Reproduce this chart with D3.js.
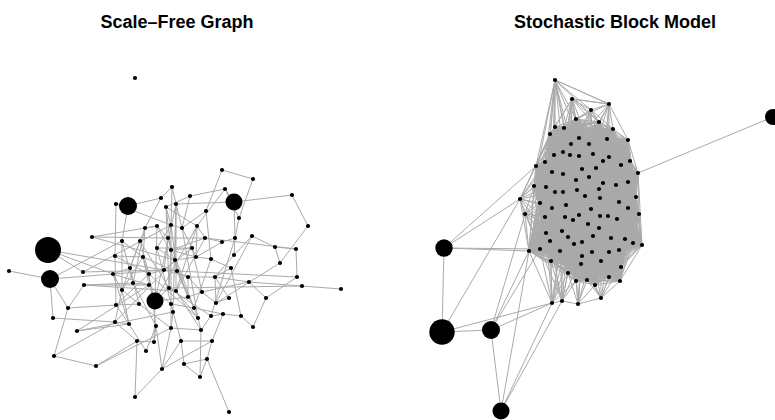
<!DOCTYPE html>
<html>
<head>
<meta charset="utf-8">
<script src="https://cdn.jsdelivr.net/npm/d3@7"></script>
<style>
  body { margin: 0; background: #fff; }
  svg text { font-family: "Liberation Sans", Arial, sans-serif; font-weight: bold; }
</style>
</head>
<body>
<div id="wrapper"></div>
<script>
// ---- Scale-free graph: node layout (ids 1..100), radius, edges ----
const sfX = [135,48,50,9,128,116,161,172,166,176, 92,145,157,171,122,140,168,157,171,115,
             143,175,83,113,130,149,164,177,84,133, 149,122,155,169,176,68,116,139,171,173,
             115,129,156,171,77,53,137,154,146,54, 96,162,135,188,202,194,198,216,229,211,
             223,241,249,266,302,341,253,201,181,212, 207,184,200,229,222,253,190,225,234,292,
             308,206,239,182,197,205,222,235,252,192, 275,296,196,211,234,280,231,188,215,297]
const sfY = [78,250,279,271,206,204,198,187,207,204, 237,228,226,225,241,241,238,248,250,256,
             257,260,272,274,268,274,270,271,285,283, 285,290,301,288,291,308,305,304,304,312,
             322,324,326,328,331,318,341,342,351,356, 366,369,397,297,292,308,318,303,298,316,
             314,316,282,298,286,289,327,330,341,341, 359,364,377,412,170,179,196,189,202,195,
             226,211,218,228,226,238,242,238,236,248, 247,249,257,259,255,263,268,277,277,277]
const sfBig = [[2, 13], [3, 9], [5, 9], [33, 8.5], [79, 8.5]]
const sfEdges = [
  [4,3],[2,23],[2,24],[3,46],[3,36],[3,27],[5,6],[5,7],[5,15],[6,20],[11,13],[11,17],
  [7,8],[7,12],[75,76],[75,82],[76,83],[79,80],[79,10],[80,81],[81,96],[77,78],[78,83],
  [91,92],[92,100],[63,65],[65,66],[64,100],[64,67],[67,62],[63,64],[74,71],[53,52],
  [53,47],[47,51],[51,50],[50,36],[46,41],[36,37],[36,29],[45,42],[45,40],[69,70],
  [72,71],[73,71],[52,69],[52,70],[60,61],[61,62],[55,63],[34,65],[96,91],[96,58],
  [86,92],[89,91],[28,100],[63,99],[47,48],[49,43],[52,44],[12,13],[83,88],[78,79],
  [79,88],[23,27],[23,14],[29,35],[29,31],[29,30],[32,38],[32,21],[24,42],[20,26],
  [9,14],[9,19],[10,22],[10,35],[12,25],[12,21],[13,17],[13,33],[14,18],[14,28],
  [15,21],[15,30],[16,26],[16,34],[17,27],[17,86],[18,39],[18,22],[19,34],[19,90],
  [20,21],[20,37],[21,31],[22,28],[22,54],[24,25],[24,31],[25,32],[25,38],[26,27],
  [26,43],[27,28],[27,98],[28,56],[30,31],[30,43],[31,39],[32,41],[32,42],[33,34],
  [33,48],[34,35],[34,60],[35,57],[35,85],[37,38],[37,42],[38,44],[39,40],[39,56],
  [40,44],[40,69],[41,42],[41,47],[42,49],[43,48],[43,52],[44,68],[54,55],[54,98],
  [55,58],[56,57],[56,61],[57,68],[58,59],[59,99],[60,68],[61,70],[62,97],[68,73],
  [69,72],[70,71],[72,73],[77,84],[77,9],[78,85],[82,84],[82,94],[84,90],[85,86],
  [85,93],[86,87],[87,88],[87,93],[88,95],[89,95],[90,93],[93,94],[94,97],[95,99],
  [97,99],[98,99],[98,55],[99,58],[8,14],[8,84],[10,33],[13,22],[15,32],[16,25],
  [17,19],[21,33],[26,37],[12,30],[24,32],[89,58],[88,60],[90,55],[84,57],[94,56],
  [86,35],[33,54],[19,86],[9,85],[14,84],[18,90],[22,93],
  [2,27],[11,22],[6,14],[45,31],[50,41],[51,44],[3,15],
  [10,40],[14,44],[19,93],[22,41],[28,54],[33,85],[35,68],[27,90],[9,34],[17,56],
  [21,98],[26,57]
]

// ---- Stochastic block model: node layout (ids 1..100) ----
const sbX = [555,572,609,591,576,599,555,564,613,550, 579,607,628,571,589,563,554,570,579,593,
             609,603,630,545,536,582,596,621,638,552, 563,576,589,603,616,628,534,546,555,563,
             577,585,599,600,619,636,520,540,552,566, 591,628,525,545,565,573,579,600,608,617,
             639,588,599,546,562,568,574,582,593,611, 625,633,642,550,529,540,560,582,592,609,
             619,551,581,601,621,568,576,587,595,609, 620,552,562,578,601,773,444,442,491,501]
const sbY = [80,99,104,110,119,122,127,128,129,134, 138,139,140,144,144,152,155,155,156,154,
             157,161,161,162,166,169,168,165,173,172, 174,180,177,183,185,182,186,187,192,192,
             190,196,189,198,202,197,199,203,208,205, 209,208,214,217,217,220,215,216,216,219,
             214,224,228,233,231,237,244,242,236,238, 239,243,245,241,251,249,251,256,252,252,
             250,261,264,261,267,273,281,280,285,277, 281,303,301,304,298,117,248,332,330,411]
const sbBig = [[96, 8], [97, 8.7], [98, 12.7], [99, 9], [100, 8.5]]
// main block: every pair of core nodes is linked; fringe nodes list their links
const sbBlock = d3.range(1, 96)
const sbFringe = {
  1: [3,4,5,6,7,8,10,11,14,16,17,24,25,30,37,38,18],
  2: [3,4,5,6,7,8,10,11,14,15,16,18,19,31,12],
  3: [4,5,6,9,11,12,13,15,20,21,22,1,2],
  4: [5,6,8,9,11,12,14,15,19,20],
  47: [25,37,24,38,48,54,49,30,39,53,64,17,10,76,75],
  53: [48,54,64,74,75,76,37,38,49,55,65],
  92: [82,86,77,75,76,74,64,87,93,65,66,67],
  93: [82,86,87,77,76,67,78,66,65,74],
  94: [86,87,88,83,78,79,93,95,67,68,89],
  95: [89,90,91,84,85,88,83,79,80,81]
}
const sbOuter = [[96,29],[97,25],[97,47],[97,75],[97,76],[97,98],[98,99],[98,47],[98,92],
                 [99,53],[99,75],[99,76],[99,92],[99,100],[100,75],[100,92],[100,93]]

const titles = ["Scale\u2013Free Graph", "Stochastic Block Model"]

const width = 775, height = 420
const svg = d3.select("#wrapper").append("svg")
  .attr("width", width)
  .attr("height", height)

function sbmEdges() {
  const edges = []
  const core = sbBlock.filter(id => !(id in sbFringe))
  for (let i = 0; i < core.length; i++)
    for (let j = i + 1; j < core.length; j++) edges.push([core[i], core[j]])
  Object.keys(sbFringe).forEach(k => sbFringe[k].forEach(t => edges.push([+k, t])))
  return edges.concat(sbOuter)
}

function drawGraph(xs, ys, big, edges, box, title) {
  const nodes = xs.map((x, i) => ({ id: i + 1, x: x, y: ys[i], r: 2.1 }))
  big.forEach(([id, r]) => { nodes[id - 1].r = r })

  const xScale = d3.scaleLinear().domain(d3.extent(xs)).range([box.x0, box.x1])
  const yScale = d3.scaleLinear().domain(d3.extent(ys)).range([box.y0, box.y1])

  const g = svg.append("g")
  g.append("g")
    .selectAll("line")
    .data(edges)
    .join("line")
      .attr("x1", d => xScale(nodes[d[0] - 1].x))
      .attr("y1", d => yScale(nodes[d[0] - 1].y))
      .attr("x2", d => xScale(nodes[d[1] - 1].x))
      .attr("y2", d => yScale(nodes[d[1] - 1].y))
      .attr("stroke", "#aaaaaa")
      .attr("stroke-width", 1)

  g.append("g")
    .selectAll("circle")
    .data(nodes)
    .join("circle")
      .attr("cx", d => xScale(d.x))
      .attr("cy", d => yScale(d.y))
      .attr("r", d => d.r)
      .attr("fill", "#000")

  svg.append("text")
    .attr("x", box.tx)
    .attr("y", 28)
    .attr("text-anchor", "middle")
    .attr("font-size", 18)
    .text(title)
}

drawGraph(sfX, sfY, sfBig, sfEdges, { x0: 9, x1: 341, y0: 78, y1: 412, tx: 177 }, titles[0])
drawGraph(sbX, sbY, sbBig, sbmEdges(), { x0: 442, x1: 773, y0: 80, y1: 411, tx: 615 }, titles[1])
</script>
</body>
</html>
